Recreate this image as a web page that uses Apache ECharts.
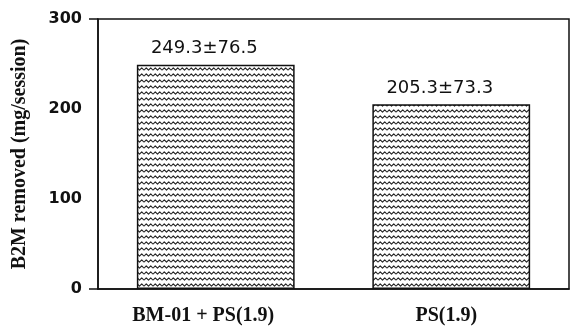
<!DOCTYPE html>
<html><head><meta charset="utf-8">
<script src="https://cdn.jsdelivr.net/npm/echarts@6/dist/echarts.min.js"></script>
<style>html,body{margin:0;padding:0;background:#fff}#c{width:571px;height:326px}</style>
</head><body><div id="c"></div>
<script>
var categories = ['BM-01 + PS(1.9)', 'PS(1.9)'];
var values = [249.3, 205.3];
var labels = ['249.3\u00b176.5', '205.3\u00b173.3'];
var yTicks = [0, 100, 200, 300];

function makePattern() {
  var c = document.createElement('canvas');
  c.width = 9; c.height = 6;
  var ctx = c.getContext('2d');
  ctx.fillStyle = '#fff'; ctx.fillRect(0, 0, 9, 6);
  ctx.strokeStyle = '#222'; ctx.lineWidth = 1.1;
  ctx.lineJoin = 'round';
  ctx.beginPath();
  ctx.moveTo(0, 4.2); ctx.lineTo(2.25, 1.8); ctx.lineTo(4.5, 4.2); ctx.lineTo(6.75, 1.8); ctx.lineTo(9, 4.2);
  ctx.stroke();
  return c;
}
var pat = makePattern();

var xFont = {fontFamily: 'Liberation Serif', fontWeight: 'bold', fontSize: 20, color: '#111'};

var chart = echarts.init(document.getElementById('c'), null, {renderer: 'canvas'});
chart.setOption({
  animation: false,
  grid: {left: 98, right: 2, top: 19, bottom: 36, show: true, borderColor: '#111', borderWidth: 1.5},
  xAxis: {
    type: 'category', data: categories,
    axisLine: {lineStyle: {color: '#111', width: 1.5}},
    axisTick: {alignWithLabel: true, length: 6, lineStyle: {color: '#111', width: 1.5}},
    axisLabel: {fontFamily: 'Liberation Serif', fontWeight: 'bold', fontSize: 20, color: '#111', margin: 17,
      formatter: function (v, i) { return (i === 0 ? '{a|' : '{b|') + v + '}'; },
      rich: {
        a: Object.assign({padding: [0, 25, 0, 0]}, xFont),
        b: Object.assign({padding: [0, 10, 0, 0]}, xFont)
      }}
  },
  yAxis: [{
    type: 'value', min: 0, max: 300, interval: 100,
    name: 'B2M removed (mg/session)', nameLocation: 'middle', nameGap: 68,
    nameTextStyle: {fontFamily: 'Liberation Serif', fontWeight: 'bold', fontSize: 20, color: '#111'},
    axisLine: {show: true, lineStyle: {color: '#111', width: 1.5}},
    axisTick: {show: false},
    splitLine: {show: false},
    axisLabel: {fontFamily: 'DejaVu Sans', fontWeight: 'bold', fontSize: 16, color: '#111', margin: 16,
      formatter: function (v) { return yTicks.indexOf(v) >= 0 ? String(v) : ''; }}
  }, {
    type: 'value', min: 0, max: 300, interval: 300, position: 'left',
    axisLine: {show: false}, axisLabel: {show: false}, splitLine: {show: false},
    axisTick: {show: true, length: 9, lineStyle: {color: '#111', width: 1.5}}
  }],
  series: [{
    type: 'bar', data: values, barWidth: '67%',
    itemStyle: {color: {image: pat, repeat: 'repeat'}, borderColor: '#111', borderWidth: 1.5},
    label: {show: true, position: 'top', distance: 7, offset: [-11.5, 0],
      fontFamily: 'DejaVu Sans', fontSize: 18, color: '#111',
      formatter: function (p) { return labels[p.dataIndex]; }}
  }]
});
</script></body></html>
